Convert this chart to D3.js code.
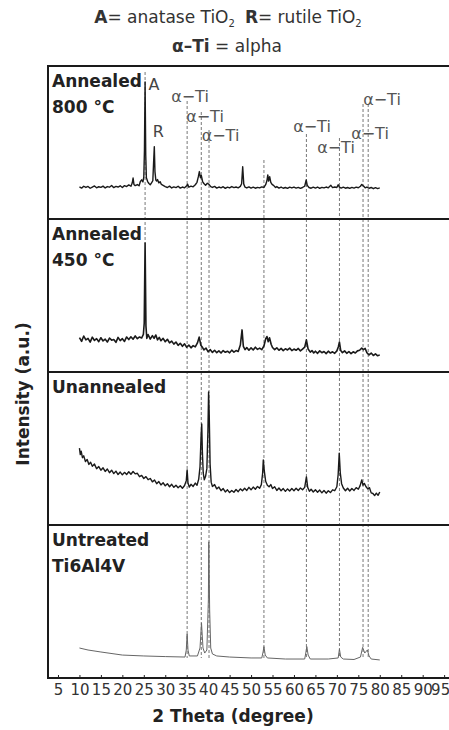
<!DOCTYPE html>
<html>
<head>
<meta charset="utf-8">
<script src="https://cdn.jsdelivr.net/npm/d3@7"></script>
<style>
  body { margin: 0; background: #fff; }
  text { font-family: "DejaVu Sans", sans-serif; }
</style>
</head>
<body>
<svg id="chart" width="449" height="730"></svg>
<script>
// ---- data (2 theta in degrees, intensity in a.u. per panel) ----
const panelLabels = [["Annealed", "800 °C"], ["Annealed", "450 °C"], ["Unannealed"], ["Untreated", "Ti6Al4V"]];

const annealed800 = [
  [10.0,21.0],[10.5,20.2],[11.0,21.4],[11.5,20.6],[12.0,21.3],[12.5,20.1],[13.0,20.9],[13.5,21.6],[14.0,20.4],[14.5,21.1],
  [15.0,20.7],[15.5,21.5],[16.0,20.3],[16.5,21.2],[17.0,20.8],[17.5,21.9],[18.0,20.5],[18.5,21.3],[19.0,20.9],[19.5,21.7],
  [20.0,20.6],[20.5,21.8],[21.0,21.2],[21.5,22.3],[22.0,21.4],[22.3,23.5],[22.5,26.8],[22.7,22.6],[23.0,21.8],[23.5,22.5],
  [23.9,21.7],[24.2,24.5],[24.5,25.6],[24.8,24.2],[25.0,27.5],[25.15,45.0],[25.3,89.5],[25.45,42.0],[25.6,27.0],[25.9,24.5],
  [26.2,23.2],[26.5,22.4],[26.8,23.6],[27.1,25.0],[27.3,38.0],[27.45,47.3],[27.6,31.0],[27.8,25.5],[28.0,24.8],[28.2,25.8],
  [28.5,23.6],[28.8,24.4],[29.1,22.6],[29.5,22.0],[30.0,21.2],[30.5,20.6],[31.0,21.5],[31.5,20.3],[32.0,21.0],[32.5,20.5],
  [33.0,21.4],[33.5,20.2],[34.0,20.9],[34.5,20.4],[35.0,21.8],[35.2,22.8],[35.5,20.8],[36.0,21.5],[36.5,21.0],[37.0,22.4],
  [37.4,24.0],[37.7,27.5],[37.95,31.0],[38.2,27.0],[38.4,28.5],[38.7,24.5],[39.0,23.2],[39.4,22.0],[39.8,23.4],[40.2,22.6],
  [40.6,21.2],[41.0,20.6],[41.5,21.3],[42.0,20.2],[42.5,20.9],[43.0,20.4],[43.5,21.1],[44.0,20.0],[44.5,20.8],[45.0,20.3],
  [45.5,21.2],[46.0,20.5],[46.5,20.9],[47.0,20.4],[47.5,21.3],[47.8,23.0],[48.05,34.2],[48.3,22.8],[48.6,20.8],[49.0,20.3],
  [49.5,21.0],[50.0,20.2],[50.5,20.8],[51.0,20.1],[51.5,20.7],[52.0,20.3],[52.5,21.0],[53.0,20.6],[53.4,22.4],[53.7,25.0],
  [53.9,28.8],[54.1,24.8],[54.35,27.6],[54.6,24.0],[54.9,22.6],[55.3,21.8],[55.7,20.6],[56.0,21.2],[56.5,20.2],[57.0,20.9],
  [57.5,20.1],[58.0,20.6],[58.5,20.0],[59.0,20.8],[59.5,20.3],[60.0,20.9],[60.5,20.2],[61.0,20.7],[61.5,20.0],[62.0,20.6],
  [62.5,21.4],[62.85,25.5],[63.1,22.0],[63.5,20.6],[64.0,20.1],[64.5,20.8],[65.0,20.2],[65.5,20.9],[66.0,20.0],[66.5,20.7],
  [67.0,20.3],[67.5,20.9],[68.0,20.4],[68.6,22.0],[69.0,20.5],[69.5,20.9],[70.0,20.6],[70.3,22.4],[70.6,20.8],[71.0,20.2],
  [71.5,20.8],[72.0,20.1],[72.5,20.6],[73.0,20.0],[73.5,20.7],[74.0,20.2],[74.5,20.8],[75.0,20.4],[75.5,21.4],[75.8,22.6],
  [76.2,21.6],[76.6,20.4],[77.0,20.9],[77.5,20.1],[78.0,20.6],[78.5,19.8],[79.0,20.5],[79.5,19.9],[80.0,20.3]
];

const annealed450 = [
  [10.0,22.5],[10.5,20.0],[11.0,23.5],[11.5,21.0],[12.0,22.0],[12.5,19.5],[13.0,22.8],[13.5,20.6],[14.0,21.8],[14.5,19.8],
  [15.0,22.4],[15.5,20.3],[16.0,21.5],[16.5,19.6],[17.0,22.2],[17.5,20.8],[18.0,21.2],[18.5,19.4],[19.0,22.6],[19.5,20.5],
  [20.0,21.8],[20.5,20.0],[21.0,22.9],[21.5,21.2],[22.0,23.0],[22.5,21.4],[23.0,23.6],[23.5,21.8],[24.0,22.9],[24.5,22.2],
  [24.9,24.6],[25.1,32.0],[25.3,84.3],[25.5,30.0],[25.7,22.0],[26.0,24.5],[26.5,21.5],[27.0,23.8],[27.4,22.0],[27.8,24.2],
  [28.2,21.0],[28.6,22.6],[29.0,20.4],[29.5,22.0],[30.0,19.8],[30.5,21.4],[31.0,19.0],[31.5,20.2],[32.0,18.2],[32.5,19.6],
  [33.0,17.4],[33.5,18.8],[34.0,16.8],[34.5,18.4],[35.0,16.2],[35.5,17.6],[36.0,15.8],[36.5,17.2],[37.0,16.4],[37.5,19.0],
  [37.9,22.8],[38.3,17.5],[38.7,16.0],[39.0,14.4],[39.5,15.6],[40.0,13.2],[40.5,14.6],[41.0,12.8],[41.5,14.2],[42.0,12.6],
  [42.5,13.8],[43.0,12.4],[43.5,14.0],[44.0,12.9],[44.5,13.6],[45.0,12.5],[45.5,14.3],[46.0,13.0],[46.5,14.0],[47.0,13.4],
  [47.5,17.6],[47.9,27.5],[48.2,16.8],[48.6,14.6],[49.0,16.0],[49.5,14.2],[50.0,15.8],[50.5,14.4],[51.0,16.2],[51.5,14.8],
  [52.0,15.6],[52.5,14.6],[53.0,17.0],[53.4,21.6],[53.7,23.2],[54.0,19.8],[54.3,22.4],[54.7,18.0],[55.0,16.0],[55.5,14.6],
  [56.0,15.8],[56.5,14.2],[57.0,15.4],[57.5,14.0],[58.0,15.2],[58.5,14.4],[59.0,15.6],[59.5,14.0],[60.0,15.0],[60.5,14.2],
  [61.0,15.4],[61.5,13.8],[62.0,15.0],[62.5,16.2],[62.9,21.0],[63.3,15.0],[63.8,13.0],[64.2,14.0],[64.6,12.4],[65.0,13.6],
  [65.5,12.2],[66.0,13.8],[66.5,12.6],[67.0,13.4],[67.5,12.0],[68.0,13.6],[68.5,12.4],[69.0,13.2],[69.5,12.2],[70.0,13.8],
  [70.35,16.5],[70.6,19.6],[70.9,14.0],[71.3,12.6],[71.8,13.8],[72.3,12.2],[72.8,13.4],[73.3,12.0],[73.8,13.2],[74.3,12.4],
  [74.8,13.8],[75.3,14.2],[75.8,15.6],[76.2,14.6],[76.6,15.4],[77.0,12.6],[77.5,11.2],[78.0,12.4],[78.5,10.8],[79.0,11.8],
  [79.5,10.6],[80.0,11.2]
];

const unannealed = [
  [10.0,50.3],[10.2,46.0],[10.4,48.2],[10.7,44.0],[11.0,45.2],[11.4,41.5],[11.8,42.8],[12.2,39.6],[12.6,41.0],[13.0,38.4],
  [13.5,39.8],[14.0,36.8],[14.5,38.2],[15.0,35.8],[15.5,37.4],[16.0,35.0],[16.5,36.6],[17.0,34.2],[17.5,35.8],[18.0,33.6],
  [18.5,35.2],[19.0,33.0],[19.5,34.6],[20.0,32.8],[20.5,34.4],[21.0,33.0],[21.5,34.8],[22.0,33.2],[22.5,35.0],[23.0,33.4],
  [23.5,33.8],[24.0,31.6],[24.5,32.4],[25.0,30.4],[25.5,31.6],[26.0,29.6],[26.5,30.4],[27.0,28.2],[27.5,29.4],[28.0,27.0],
  [28.5,28.4],[29.0,26.2],[29.5,27.6],[30.0,25.6],[30.5,27.0],[31.0,25.0],[31.5,26.6],[32.0,24.6],[32.5,26.0],[33.0,24.4],
  [33.5,25.6],[34.0,24.0],[34.5,25.8],[34.9,29.0],[35.1,36.0],[35.3,27.5],[35.6,24.8],[36.0,26.6],[36.5,25.2],[37.0,27.4],
  [37.4,26.0],[37.8,30.0],[38.1,38.0],[38.35,58.0],[38.5,66.0],[38.65,48.0],[38.85,34.0],[39.1,29.5],[39.4,31.8],[39.7,37.0],
  [39.95,62.0],[40.1,87.0],[40.25,72.0],[40.45,40.0],[40.7,28.0],[41.0,25.2],[41.5,26.4],[42.0,23.6],[42.5,24.8],[43.0,22.4],
  [43.5,23.8],[44.0,21.6],[44.5,23.0],[45.0,21.2],[45.5,22.6],[46.0,21.4],[46.5,23.2],[47.0,21.8],[47.5,23.6],[48.0,22.4],
  [48.5,24.0],[49.0,22.6],[49.5,24.6],[50.0,23.0],[50.5,24.8],[51.0,23.4],[51.5,25.2],[52.0,24.0],[52.4,26.4],[52.7,34.0],
  [52.85,42.5],[53.1,35.0],[53.4,28.6],[53.8,26.0],[54.2,25.0],[54.6,26.4],[55.0,23.8],[55.5,25.0],[56.0,22.6],[56.5,24.2],
  [57.0,22.4],[57.5,23.8],[58.0,22.0],[58.5,23.6],[59.0,22.2],[59.5,23.8],[60.0,22.4],[60.5,24.0],[61.0,22.6],[61.5,24.2],
  [62.0,23.0],[62.5,24.6],[62.9,31.4],[63.2,24.6],[63.6,22.0],[64.0,23.4],[64.5,21.6],[65.0,23.0],[65.5,21.4],[66.0,22.8],
  [66.5,21.0],[67.0,22.6],[67.5,20.8],[68.0,22.4],[68.5,21.2],[69.0,23.0],[69.5,22.4],[70.0,25.0],[70.3,33.0],[70.55,47.0],
  [70.8,34.0],[71.1,27.0],[71.5,24.2],[72.0,22.4],[72.5,24.0],[73.0,22.2],[73.5,23.8],[74.0,22.6],[74.5,24.4],[75.0,23.4],
  [75.4,25.6],[75.8,29.4],[76.1,26.0],[76.4,27.2],[76.8,25.0],[77.2,23.6],[77.6,24.4],[78.0,21.0],[78.4,20.6],[78.8,19.2],
  [79.2,20.8],[79.6,19.4],[80.0,21.6]
];

const untreated = [
  [10.0,19.6],[12.0,18.3],[15.0,17.0],[20.0,15.0],[25.0,14.4],[30.0,14.0],[34.6,13.7],[34.9,18.3],[35.1,28.8],[35.3,18.3],
  [35.6,14.4],[37.5,14.4],[38.1,19.6],[38.45,36.0],[38.8,19.6],[39.2,16.3],[39.7,18.3],[40.05,51.0],[40.15,89.0],[40.35,44.4],
  [40.6,19.6],[41.0,15.7],[42.0,14.4],[45.0,13.7],[50.0,13.1],[52.5,13.1],[52.8,17.0],[53.0,20.5],[53.3,15.0],[53.8,13.1],
  [58.0,12.4],[62.5,12.4],[62.8,17.0],[63.0,20.5],[63.3,15.0],[63.8,12.4],[68.0,12.4],[70.3,13.1],[70.6,18.8],[70.9,13.7],
  [71.5,12.4],[74.0,12.1],[75.5,13.7],[76.0,20.0],[76.5,16.3],[77.1,18.3],[77.5,14.4],[78.0,12.4],[80.0,11.8]
];

const series = [annealed800, annealed450, unannealed, untreated];

// reference peak positions (2 theta)
const anatasePeak = 25.3;
const rutilePeak = 27.45;
const alphaTiPeaks = [35.1, 38.4, 40.2, 53.0, 62.9, 70.6, 76.1, 77.3];
const alphaTiLabelled = [true, true, true, false, true, true, true, true];
const xTicks = [5, 10, 15, 20, 25, 30, 35, 40, 45, 50, 55, 60, 65, 70, 75, 80, 85, 90, 95];

// ---- layout ----
const svg = d3.select("#chart");
const plotLeft = 48, plotTop = 66, panelH = 153, nPanels = 4, plotRight = 460;
const plotBottom = plotTop + panelH * nPanels;

const x = d3.scaleLinear().domain([2.67, 98]).range([plotLeft, 457]);
const yScales = series.map((s, i) => d3.scaleLinear()
  .domain([0, 100])
  .range([plotTop + panelH * (i + 1), plotTop + panelH * i]));

// label placement for the alpha-Ti peaks (line top, label centre)
const alphaLayout = [
  { lineTop: 101, lx: 190, ly: 96 },
  { lineTop: 112, lx: 205, ly: 116.5 },
  { lineTop: 130, lx: 220.5, ly: 135 },
  { lineTop: 160 },
  { lineTop: 134, lx: 312, ly: 126.5 },
  { lineTop: 138, lx: 336, ly: 147 },
  { lineTop: 104, lx: 370, ly: 133 },
  { lineTop: 104, lx: 382, ly: 99 }
];
const dashBottom = 658;

// title
const title = svg.append("text")
  .attr("x", 228).attr("y", 23)
  .attr("text-anchor", "middle")
  .attr("font-size", 17)
  .attr("fill", "#333");
title.append("tspan").attr("font-weight", "bold").text("A");
title.append("tspan").text("= anatase TiO");
title.append("tspan").attr("font-size", 10).attr("dy", 4).text("2");
title.append("tspan").attr("font-weight", "bold").attr("dy", -4).attr("dx", 10).text("R");
title.append("tspan").text("= rutile TiO");
title.append("tspan").attr("font-size", 10).attr("dy", 4).text("2");

const title2 = svg.append("text")
  .attr("x", 227).attr("y", 52)
  .attr("text-anchor", "middle")
  .attr("font-size", 17)
  .attr("fill", "#333");
title2.append("tspan").attr("font-weight", "bold").text("α–Ti");
title2.append("tspan").text(" = alpha");

// dashed reference lines
svg.append("line")
  .attr("x1", x(anatasePeak)).attr("x2", x(anatasePeak))
  .attr("y1", 72).attr("y2", yScales[1](84))
  .attr("stroke", "#555").attr("stroke-width", 0.8)
  .attr("stroke-dasharray", "3,2");

svg.selectAll("line.alpha").data(alphaTiPeaks)
  .join("line")
  .attr("class", "alpha")
  .attr("x1", d => x(d)).attr("x2", d => x(d))
  .attr("y1", (d, i) => alphaLayout[i].lineTop)
  .attr("y2", dashBottom)
  .attr("stroke", "#555").attr("stroke-width", 0.8)
  .attr("stroke-dasharray", "3,2");

// spectra
series.forEach((s, i) => {
  const y = yScales[i];
  const line = d3.line().x(d => x(d[0])).y(d => y(d[1]));
  svg.append("path")
    .datum(s)
    .attr("fill", "none")
    .attr("stroke", i === 3 ? "#666" : "#1a1a1a")
    .attr("stroke-width", i === 3 ? 1 : (i === 1 ? 1.6 : 1.4))
    .attr("stroke-linejoin", "round")
    .attr("d", line);
});

// peak labels
svg.selectAll("text.alphaLbl").data(alphaTiPeaks.filter((d, i) => alphaTiLabelled[i]))
  .join("text")
  .attr("class", "alphaLbl")
  .attr("x", d => alphaLayout[alphaTiPeaks.indexOf(d)].lx)
  .attr("y", d => alphaLayout[alphaTiPeaks.indexOf(d)].ly)
  .attr("dy", "0.36em")
  .attr("text-anchor", "middle")
  .attr("font-size", 16)
  .attr("fill", "#555")
  .text("α−Ti");

svg.append("text")
  .attr("x", 154).attr("y", 84).attr("dy", "0.36em")
  .attr("text-anchor", "middle").attr("font-size", 16).attr("fill", "#444")
  .text("A");
svg.append("text")
  .attr("x", x(rutilePeak) + 4).attr("y", 131.5).attr("dy", "0.36em")
  .attr("text-anchor", "middle").attr("font-size", 16).attr("fill", "#444")
  .text("R");

// frame and panel dividers
svg.append("rect")
  .attr("x", plotLeft).attr("y", plotTop)
  .attr("width", plotRight - plotLeft).attr("height", plotBottom - plotTop)
  .attr("fill", "none").attr("stroke", "#1a1a1a").attr("stroke-width", 2);

svg.selectAll("line.divider").data(d3.range(1, nPanels))
  .join("line")
  .attr("class", "divider")
  .attr("x1", plotLeft).attr("x2", plotRight)
  .attr("y1", d => plotTop + panelH * d).attr("y2", d => plotTop + panelH * d)
  .attr("stroke", "#1a1a1a").attr("stroke-width", 2);

// panel labels
panelLabels.forEach((lbl, i) => {
  lbl.forEach((t, j) => {
    svg.append("text")
      .attr("x", 52)
      .attr("y", plotTop + panelH * i + 21 + j * 26)
      .attr("font-size", 17)
      .attr("font-weight", "bold")
      .attr("fill", "#222")
      .text(t);
  });
});

// x axis
const xAxis = d3.axisBottom(x).tickValues(xTicks).tickSize(-3).tickPadding(6);
const gx = svg.append("g")
  .attr("transform", `translate(0,${plotBottom})`)
  .call(xAxis);
gx.select(".domain").remove();
gx.selectAll(".tick line").attr("stroke", "#222");
gx.selectAll(".tick text")
  .attr("font-family", "Liberation Sans, Arial, sans-serif")
  .attr("font-size", 15)
  .attr("fill", "#333");
// last label sits against the right edge of the picture
gx.selectAll(".tick text").filter(d => d === 95)
  .attr("dx", -4);

svg.append("text")
  .attr("x", 233).attr("y", 722)
  .attr("text-anchor", "middle")
  .attr("font-size", 17).attr("font-weight", "bold").attr("fill", "#222")
  .text("2 Theta (degree)");

svg.append("text")
  .attr("transform", "translate(29,394) rotate(-90)")
  .attr("text-anchor", "middle")
  .attr("font-size", 17).attr("font-weight", "bold").attr("fill", "#222")
  .text("Intensity (a.u.)");
</script>
</body>
</html>
